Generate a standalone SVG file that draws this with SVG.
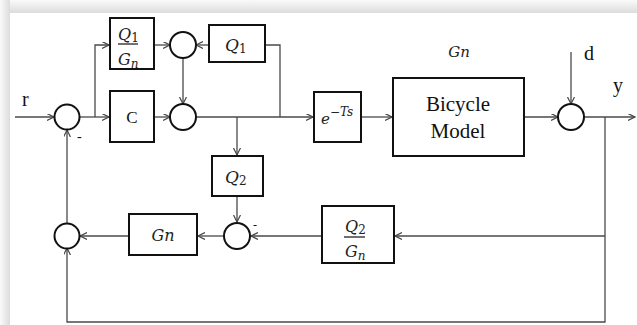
<svg xmlns="http://www.w3.org/2000/svg" width="637" height="325" viewBox="0 0 637 325">
<style>
.blk{fill:#fff;stroke:#111;stroke-width:2}
.sum{fill:#fff;stroke:#111;stroke-width:2}
.ln{fill:none;stroke:#4a4a4a;stroke-width:1.3}
.ar{marker-end:url(#ah)}
.tm{font-family:"Liberation Serif","DejaVu Serif",serif;fill:#111}
.mi{font-family:"DejaVu Serif","Liberation Serif",serif;font-style:italic;fill:#222}
</style>
<defs>
<marker id="ah" markerUnits="userSpaceOnUse" markerWidth="9" markerHeight="9" refX="7" refY="3.5" orient="auto">
<path d="M0,0 L7,3.5 L0,7" fill="none" stroke="#444" stroke-width="1.2"/>
</marker>
<linearGradient id="gt" x1="0" y1="0" x2="0" y2="1">
<stop offset="0" stop-color="#fafafa"/><stop offset="1" stop-color="#dcdcdc"/>
</linearGradient>
<linearGradient id="gl" x1="0" y1="0" x2="1" y2="0">
<stop offset="0" stop-color="#fafafa"/><stop offset="1" stop-color="#dcdcdc"/>
</linearGradient>
</defs>
<rect x="0" y="0" width="637" height="325" fill="#fff"/>
<rect x="0" y="0" width="637" height="13" fill="url(#gt)"/>
<rect x="0" y="0" width="10" height="325" fill="url(#gl)"/>
<rect x="10" y="13" width="627" height="312" fill="#fff"/>

<g id="connectors">
<path class="ln ar" d="M15,117 H54"/>
<path class="ln ar" d="M80,117 H109"/>
<path class="ln ar" d="M95,117 V45 H109"/>
<path class="ln ar" d="M154,45 H170"/>
<path class="ln ar" d="M209,45 H196"/>
<path class="ln" d="M280,117 V45 H265"/>
<path class="ln ar" d="M183,58 V104"/>
<path class="ln ar" d="M154,117 H170"/>
<path class="ln ar" d="M196,117 H313"/>
<path class="ln ar" d="M237,117 V155"/>
<path class="ln ar" d="M237,196 V222"/>
<path class="ln ar" d="M361,117 H392"/>
<path class="ln ar" d="M524,117 H558"/>
<path class="ln ar" d="M571,52 V104"/>
<path class="ln ar" d="M584,117 H635"/>
<path class="ln ar" d="M605,117 V322 H67 V248"/>
<path class="ln ar" d="M605,236 H395"/>
<path class="ln ar" d="M322,236 H251"/>
<path class="ln ar" d="M224,236 H198"/>
<path class="ln ar" d="M129,236 H80"/>
<path class="ln ar" d="M67,223 V130"/>
</g>

<g id="sum1"><circle class="sum" cx="67" cy="117" r="12.5"/><text class="tm" x="77" y="141" font-size="14">-</text></g>
<g id="sum2"><circle class="sum" cx="183" cy="117" r="13"/></g>
<g id="sum3"><circle class="sum" cx="183" cy="45" r="13"/></g>
<g id="sum4"><circle class="sum" cx="571" cy="117" r="13"/></g>
<g id="sum5"><circle class="sum" cx="237" cy="236" r="13"/><text class="tm" x="253" y="229" font-size="12">-</text></g>
<g id="sum6"><circle class="sum" cx="67" cy="236" r="12.5"/></g>

<g id="labels">
<text class="tm" x="22" y="106" font-size="20">r</text>
<text class="tm" x="584" y="60" font-size="20">d</text>
<text class="tm" x="613" y="92" font-size="20">y</text>
<text class="mi" x="459" y="57" font-size="15" text-anchor="middle">Gn</text>
</g>

<g id="Q1Gn">
<rect class="blk" x="110" y="18" width="44" height="51"/>
<text class="mi" x="118" y="40" font-size="16">Q<tspan font-size="12" font-style="normal" dy="2">1</tspan></text>
<line x1="118" y1="44" x2="138" y2="44" stroke="#111" stroke-width="1.2"/>
<text class="mi" x="118" y="65" font-size="16">G<tspan font-size="12" dy="3">n</tspan></text>
</g>

<g id="C">
<rect class="blk" x="110" y="91" width="44" height="51"/>
<text class="tm" x="132" y="123" font-size="17" text-anchor="middle">C</text>
</g>

<g id="Q1">
<rect class="blk" x="209" y="25" width="56" height="37"/>
<text class="mi" x="225" y="51" font-size="17">Q<tspan font-size="12" font-style="normal" dy="2">1</tspan></text>
</g>

<g id="delay">
<rect class="blk" x="314" y="92" width="47" height="50"/>
<text class="mi" x="321" y="124" font-size="15">e<tspan font-size="12" dy="-8">−Ts</tspan></text>
</g>

<g id="bicycle">
<rect class="blk" x="393" y="78" width="131" height="78"/>
<text class="tm" x="458" y="111" font-size="21" text-anchor="middle">Bicycle</text>
<text class="tm" x="458" y="138" font-size="21" text-anchor="middle">Model</text>
</g>

<g id="Q2">
<rect class="blk" x="212" y="156" width="51" height="40"/>
<text class="mi" x="225" y="183" font-size="17">Q<tspan font-size="12" font-style="normal" dy="2">2</tspan></text>
</g>

<g id="Q2Gn">
<rect class="blk" x="322" y="206" width="72" height="57"/>
<text class="mi" x="345" y="232" font-size="16">Q<tspan font-size="12" font-style="normal" dy="2">2</tspan></text>
<line x1="344" y1="237" x2="365" y2="237" stroke="#111" stroke-width="1.2"/>
<text class="mi" x="345" y="257" font-size="16">G<tspan font-size="12" dy="3">n</tspan></text>
</g>

<g id="Gn">
<rect class="blk" x="129" y="214" width="68" height="41"/>
<text class="mi" x="163" y="241" font-size="16" text-anchor="middle">Gn</text>
</g>
</svg>
